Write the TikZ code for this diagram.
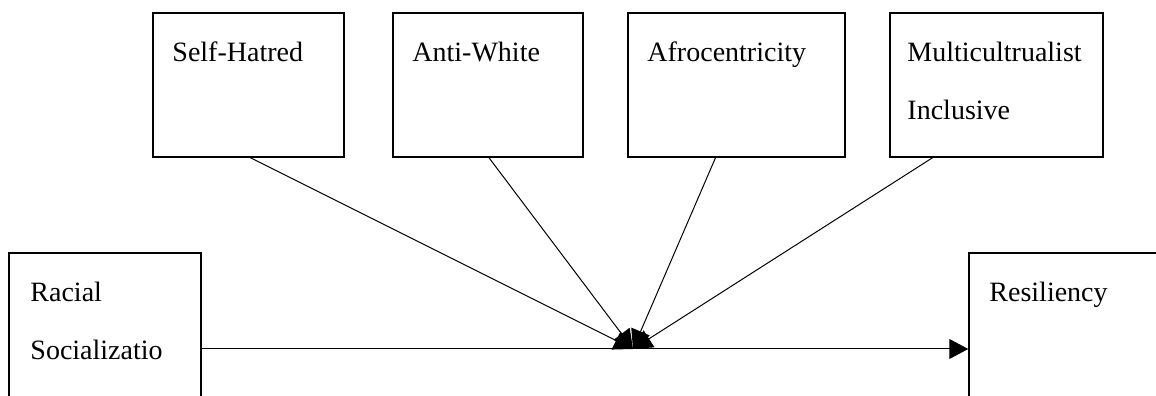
\documentclass[tikz,border=0pt]{standalone}
\usepackage{fontspec}
\setmainfont{Liberation Serif}
\usetikzlibrary{arrows.meta,positioning}

\begin{document}
\begin{tikzpicture}[x=1pt,y=1pt]
        \tikzstyle{factor}=[rectangle, draw=black, line width=1.5pt, minimum height=144pt, inner sep=0pt]
        \tikzstyle{outcome}=[rectangle, draw=black, line width=1.5pt, minimum height=192pt, inner sep=0pt]
        \tikzstyle{lbl}=[anchor=base west, inner sep=0pt, align=left, font=\fontsize{28}{58}\selectfont]
        \tikzstyle{link}=[line width=1pt, -{Triangle[length=19pt,width=20pt]}]
        \path[use as bounding box, clip] (0,0) rectangle (1156,396);
        \node [factor, minimum width=191pt] (hate) at (248.5,311) {};
        \node [factor, minimum width=190pt] (anti) at (488,311) {};
        \node [factor, minimum width=217pt] (afro) at (736.5,311) {};
        \node [factor, minimum width=213pt] (multi) at (996.5,311) {};
        \node [outcome, minimum width=192pt] (racial) at (105,47) {};
        \node [outcome, minimum width=250pt] (resil) at (1094,47) {};
        \node [lbl] (hatetxt) at ([xshift=20pt,yshift=-49pt]hate.north west) {Self-Hatred};
        \node [lbl] (antitxt) at ([xshift=20pt,yshift=-49pt]anti.north west) {Anti-White};
        \node [lbl] (afrotxt) at ([xshift=20pt,yshift=-49pt]afro.north west) {Afrocentricity};
        \node [lbl] (multitxt) at ([xshift=18pt,yshift=-107pt]multi.north west) {Multicultrualist\\Inclusive};
        \node [lbl] (racialtxt) at ([xshift=22pt,yshift=-107pt]racial.north west) {Racial\\Socializatio};
        \node [lbl] (resiltxt) at ([xshift=21pt,yshift=-49pt]resil.north west) {Resiliency};
        \coordinate (hub) at (633,47);
        \foreach \src/\dx in {hate/2, anti/1, afro/-21, multi/-64}
          \draw[link] ([xshift=\dx pt]\src.south) -- (hub);
        \draw[link] (racial) -- (resil);
      \end{tikzpicture}
\end{document}
